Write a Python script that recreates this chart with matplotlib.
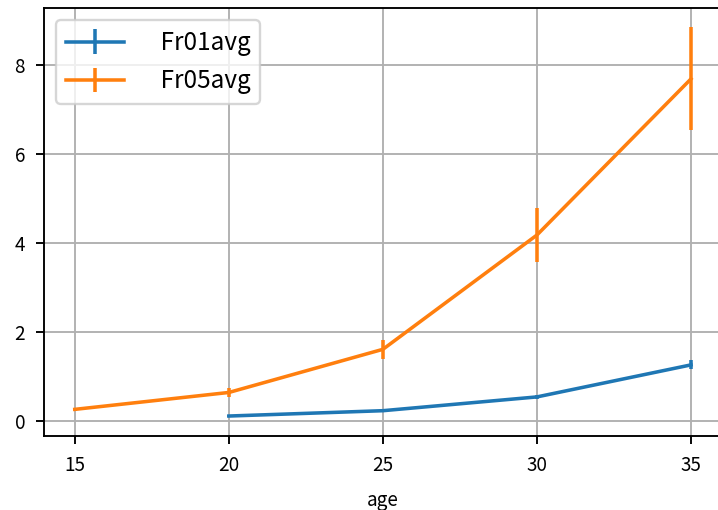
import matplotlib
matplotlib.use('Agg')
import matplotlib.pyplot as plt

plt.rcParams['font.family'] = ['Noto Sans CJK JP', 'DejaVu Sans']

ages_fr01 = [20, 25, 30, 35]
fr01avg = [0.11, 0.23, 0.54, 1.26]
fr01err = [0.02, 0.03, 0.04, 0.10]

ages_fr05 = [15, 20, 25, 30, 35]
fr05avg = [0.26, 0.64, 1.61, 4.18, 7.69]
fr05err = [0.03, 0.10, 0.22, 0.60, 1.16]

DPI = 170
fig = plt.figure(figsize=(718 / DPI, 510 / DPI), dpi=DPI)
ax = fig.add_axes([0.0613, 0.145, 0.944, 0.839])
ax.errorbar(ages_fr01, fr01avg, yerr=fr01err, label='   Fr01avg')
ax.errorbar(ages_fr05, fr05avg, yerr=fr05err, label='   Fr05avg')
ax.set_xlim(14.0, 36.0)
ax.set_ylim(-0.34, 9.28)
ax.set_xticks([15, 20, 25, 30, 35])
ax.set_yticks([0, 2, 4, 6, 8])
ax.tick_params(labelsize=8, pad=4.5)
ax.set_xlabel('age', fontsize=8, labelpad=6)
ax.grid(True)
ax.legend(loc='upper left', fontsize=10.3, handlelength=2.4)
fig.savefig('out.png', dpi=DPI)
